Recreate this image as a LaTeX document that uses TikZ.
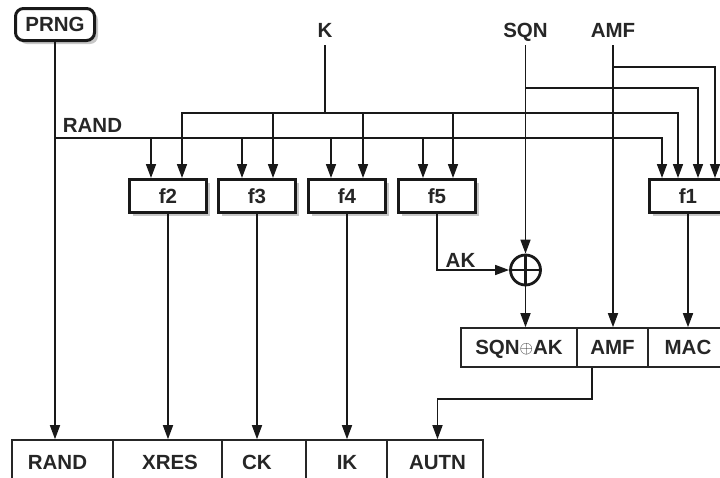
\documentclass[tikz,border=0pt]{standalone}
\usepackage{fontspec}
\setmainfont{Liberation Sans}
\usetikzlibrary{arrows.meta,calc,shadows}
\begin{document}
\begin{tikzpicture}[x=1pt,y=-1pt,
  every node/.style={font=\fontsize{20.5}{24}\selectfont\bfseries,text=black!85,inner sep=0pt,text depth=0pt},
  lab/.style={outer ysep=8pt},
  shad/.style={drop shadow={shadow xshift=3.5pt,shadow yshift=-3.5pt,fill=black!22,opacity=1}},
  fbox/.style={draw=black!90,line width=3pt,minimum width=77pt,minimum height=33pt,fill=white,shad},
  gen/.style={draw=black!90,line width=3pt,rounded corners=8pt,minimum width=79pt,minimum height=32pt,fill=white,shad},
  cell/.style={draw=black!85,line width=1.6pt},
  wire/.style={line width=1.6pt,draw=black!90},
  arr/.style={wire,-{Triangle[length=14pt,width=10pt]}},
  xorc/.style={circle,draw=black!90,line width=2.8pt,minimum size=30pt}
]
\useasboundingbox (0,0) rectangle (720,477);

% nodes
\node[gen] (prng) at (55,24.5) {PRNG};
\node[lab] (klab) at (325,30) {K};
\node[lab] (sqnlab) at (525.5,30) {SQN};
\node[lab] (amflab) at (613,30) {AMF};
\node (randlab) at (92.5,125) {RAND};
\node[fbox] (f2) at (168,196) {f2};
\node[fbox] (f3) at (257,196) {f3};
\node[fbox] (f4) at (347,196) {f4};
\node[fbox] (f5) at (437,196) {f5};
\node[fbox] (f1) at (688,196) {f1};
\node[xorc] (xor) at (525.5,270) {};
\node (aklab) at (460.5,260) {AK};

% middle table
\node[cell,minimum width=116pt,minimum height=39pt] (sqnak) at (519,347.5) {SQN\raisebox{1.5pt}{\fontsize{17}{17}\selectfont$\oplus$}AK};
\node[cell,minimum width=71pt,minimum height=39pt] (amfc) at (612.5,347.5) {AMF};
\node[cell,minimum width=80pt,minimum height=39pt] (macc) at (688,347.5) {MAC};

% bottom table
\node[cell,minimum width=101pt,minimum height=45pt] (crand) at (62.5,462.5) {};
\node[cell,minimum width=109pt,minimum height=45pt] (cxres) at (167.5,462.5) {};
\node[cell,minimum width=84pt,minimum height=45pt] (cck) at (264,462.5) {};
\node[cell,minimum width=81pt,minimum height=45pt] (cik) at (346.5,462.5) {};
\node[cell,minimum width=96pt,minimum height=45pt] (cautn) at (435,462.5) {};
\node (trand) at (57.5,462.5) {RAND};
\node (txres) at (170,462.5) {XRES};
\node (tck) at (257,462.5) {CK};
\node (tik) at (347,462.5) {IK};
\node (tautn) at (437.5,462.5) {AUTN};

% input coordinates
\coordinate (kb) at (325,113);
\coordinate (rb) at (0,138);
\coordinate (sb) at (0,88);
\coordinate (ab) at (0,67);
\path ($(f2.north)+(14,0)$) coordinate (f2k) ($(f2.north)+(-17,0)$) coordinate (f2r)
      ($(f3.north)+(16,0)$) coordinate (f3k) ($(f3.north)+(-15,0)$) coordinate (f3r)
      ($(f4.north)+(16,0)$) coordinate (f4k) ($(f4.north)+(-16,0)$) coordinate (f4r)
      ($(f5.north)+(16,0)$) coordinate (f5k) ($(f5.north)+(-14,0)$) coordinate (f5r)
      ($(f1.north)+(-26,0)$) coordinate (f1r) ($(f1.north)+(-10,0)$) coordinate (f1k)
      ($(f1.north)+(10,0)$) coordinate (f1s) ($(f1.north)+(27,0)$) coordinate (f1a);

% PRNG / RAND
\draw[arr] (prng.south) -- (prng.south |- crand.north);
\draw[arr] (prng.south |- rb) -| (f1r);
\foreach \c in {f2r,f3r,f4r,f5r} \draw[arr] (\c |- rb) -- (\c);

% K
\draw[wire] (klab.south) -- (kb);
\draw[arr] (kb) -| (f1k);
\draw[arr] (kb) -| (f2k);
\foreach \c in {f3k,f4k,f5k} \draw[arr] (\c |- kb) -- (\c);

% SQN
\draw[arr] (sqnlab.south) -- (xor.north);
\draw[arr] (sqnlab.south |- sb) -| (f1s);

% AMF
\draw[arr] (amflab.south) -- (amflab.south |- amfc.north);
\draw[arr] (amflab.south |- ab) -| (f1a);

% XOR
\draw[arr] (f5.south) |- (xor.west);
\draw[line width=2.6pt,draw=black!90] (xor.north) -- (xor.south) (xor.west) -- (xor.east);
\draw[arr] (xor.south) -- (xor.south |- sqnak.north);

% outputs
\draw[arr] (f1.south) -- (f1.south |- macc.north);
\draw[arr] (f2.south) -- (f2.south |- cxres.north);
\draw[arr] (f3.south) -- (f3.south |- cck.north);
\draw[arr] (f4.south) -- (f4.south |- cik.north);
\draw[arr] ([xshift=-20.5pt]amfc.south) -- ++(0,31) -| (tautn |- cautn.north);
\end{tikzpicture}
\end{document}
